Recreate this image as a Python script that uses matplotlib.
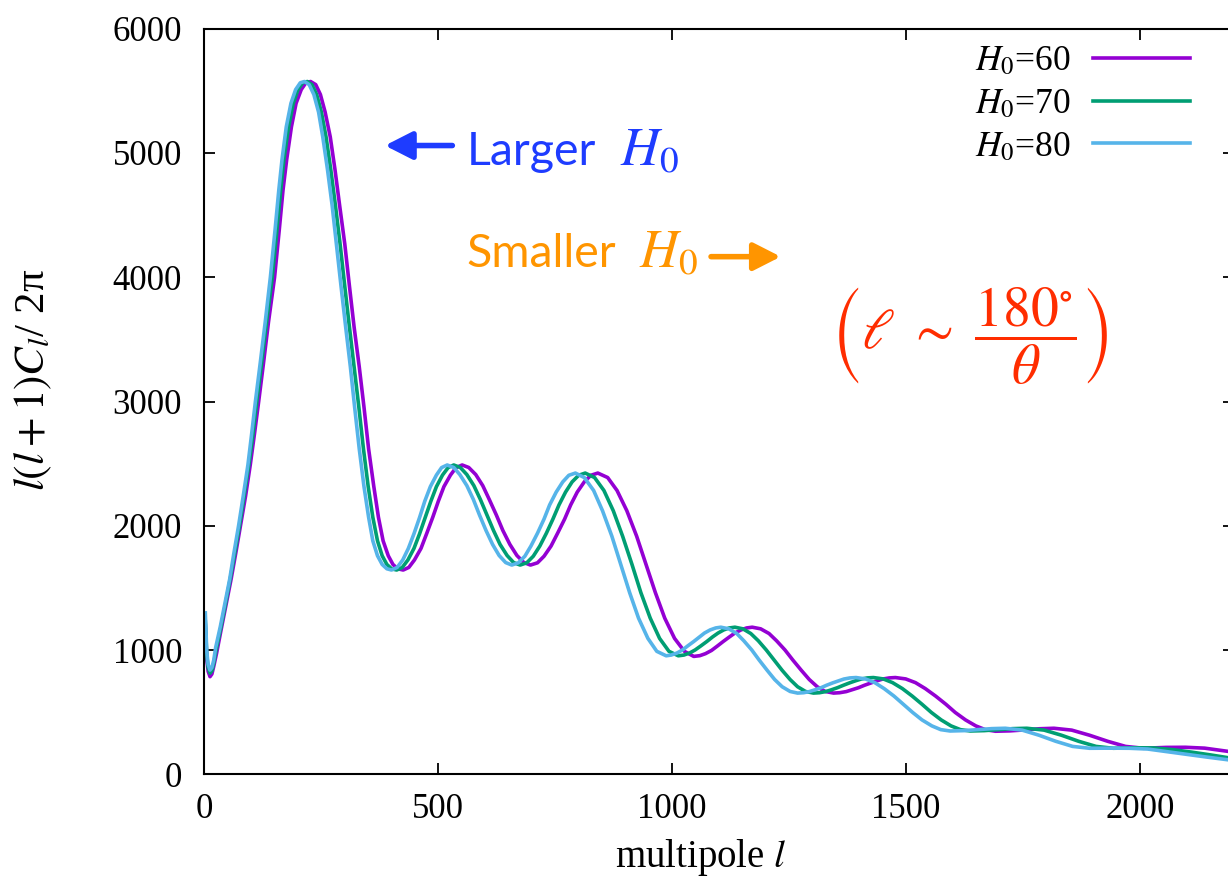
import matplotlib
matplotlib.use("Agg")
from matplotlib import pyplot as plt

plt.rcParams['font.family'] = ['Liberation Serif', 'DejaVu Serif']
plt.rcParams['mathtext.fontset'] = 'stix'

# multipole l and l(l+1)C_l/2pi for H0 = 70
l_70 = [2, 5, 8, 12, 16, 20, 25, 35, 45, 55,
        65, 75, 85, 95, 104, 112, 122, 133, 145, 155,
        163, 170, 180, 190, 200, 210, 220, 230, 240, 250,
        260, 270, 280, 290, 300, 310, 320, 330, 340, 350,
        360, 370, 380, 390, 400, 411, 423, 435, 448, 460,
        472, 484, 496, 509, 521, 533, 547, 561, 576, 590,
        604, 618, 632, 647, 661, 675, 689, 703, 717, 731,
        745, 758, 772, 786, 800, 814, 834, 854, 874, 894,
        914, 933, 953, 973, 993, 1013, 1025, 1037, 1049, 1061,
        1074, 1086, 1098, 1110, 1122, 1134, 1151, 1168, 1184, 1201,
        1218, 1235, 1252, 1268, 1285, 1302, 1315, 1328, 1340, 1353,
        1366, 1379, 1392, 1404, 1417, 1430, 1451, 1471, 1492, 1513,
        1534, 1554, 1575, 1596, 1616, 1637, 1667, 1698, 1728, 1758,
        1795, 1832, 1869, 1906, 1943, 1990, 2030, 2070, 2110, 2150,
        2200, 2260]
c_70 = [1230, 960, 860, 815, 835, 895, 1000, 1180, 1370, 1570,
        1780, 2000, 2240, 2490, 2740, 3000, 3300, 3640, 4000, 4380,
        4700, 4950, 5210, 5400, 5510, 5565, 5575, 5550, 5470, 5330,
        5130, 4870, 4580, 4270, 3930, 3600, 3280, 2960, 2620, 2320,
        2070, 1880, 1760, 1690, 1655, 1645, 1666, 1726, 1819, 1937,
        2068, 2198, 2316, 2409, 2469, 2490, 2470, 2413, 2324, 2212,
        2088, 1963, 1851, 1762, 1705, 1685, 1703, 1756, 1838, 1941,
        2055, 2169, 2272, 2354, 2407, 2425, 2389, 2285, 2122, 1917,
        1690, 1463, 1258, 1095, 991, 955, 961, 977, 1002, 1034,
        1070, 1106, 1138, 1163, 1179, 1185, 1172, 1134, 1076, 1002,
        920, 838, 764, 706, 668, 655, 658, 667, 681, 698,
        718, 737, 754, 768, 777, 780, 769, 739, 691, 631,
        565, 499, 439, 391, 361, 350, 353, 361, 369, 372,
        357, 316, 267, 226, 211, 215, 214, 200, 180, 158,
        128, 100]

# H0 = 80
l_80 = [2, 5, 8, 12, 16, 20, 24, 34, 44, 54,
        63, 73, 83, 93, 101, 109, 119, 130, 141, 151,
        159, 166, 175, 185, 195, 205, 214, 224, 234, 244,
        253, 263, 273, 282, 292, 302, 312, 321, 331, 341,
        351, 360, 370, 380, 390, 400, 412, 424, 436, 448,
        460, 471, 483, 496, 507, 519, 533, 546, 561, 575,
        588, 602, 616, 630, 644, 657, 671, 685, 698, 712,
        726, 738, 752, 766, 779, 793, 812, 832, 851, 871,
        890, 909, 928, 948, 967, 987, 998, 1010, 1022, 1033,
        1046, 1058, 1069, 1081, 1093, 1104, 1121, 1138, 1153, 1170,
        1186, 1203, 1219, 1235, 1252, 1268, 1281, 1293, 1305, 1318,
        1330, 1343, 1356, 1367, 1380, 1393, 1413, 1433, 1453, 1474,
        1494, 1514, 1534, 1555, 1574, 1594, 1624, 1654, 1683, 1712,
        1748, 1784, 1820, 1856, 1892, 1938, 1977, 2016, 2055, 2094,
        2143, 2201]
c_80 = [1300, 990, 885, 840, 860, 920, 1020, 1190, 1380, 1570,
        1780, 2000, 2240, 2490, 2740, 3000, 3300, 3640, 4000, 4380,
        4700, 4950, 5210, 5400, 5510, 5565, 5575, 5550, 5470, 5330,
        5130, 4870, 4580, 4270, 3930, 3600, 3280, 2960, 2620, 2320,
        2070, 1880, 1760, 1690, 1655, 1645, 1666, 1726, 1819, 1937,
        2068, 2198, 2316, 2409, 2469, 2490, 2470, 2413, 2324, 2212,
        2088, 1963, 1851, 1762, 1705, 1685, 1703, 1756, 1838, 1941,
        2055, 2169, 2272, 2354, 2407, 2425, 2389, 2285, 2122, 1917,
        1690, 1463, 1258, 1095, 991, 955, 961, 977, 1002, 1034,
        1070, 1106, 1138, 1163, 1179, 1185, 1172, 1134, 1076, 1002,
        920, 838, 764, 706, 668, 655, 658, 667, 681, 698,
        718, 737, 754, 768, 777, 780, 769, 739, 691, 631,
        565, 499, 439, 391, 361, 350, 353, 361, 369, 372,
        357, 316, 267, 226, 211, 212, 211, 205, 185, 165,
        140, 112]

# H0 = 60
l_60 = [2, 5, 8, 12, 16, 20, 26, 36, 46, 57,
        67, 77, 88, 98, 107, 116, 126, 137, 150, 160,
        168, 176, 186, 196, 207, 217, 227, 238, 248, 258,
        269, 279, 289, 300, 310, 320, 331, 341, 351, 362,
        372, 382, 393, 403, 413, 425, 437, 449, 463, 475,
        488, 500, 512, 526, 538, 551, 565, 580, 595, 609,
        624, 638, 653, 668, 683, 697, 712, 726, 741, 755,
        770, 783, 797, 812, 826, 841, 862, 882, 903, 924,
        944, 964, 984, 1005, 1026, 1046, 1059, 1071, 1084, 1096,
        1109, 1122, 1134, 1147, 1159, 1171, 1189, 1207, 1223, 1241,
        1258, 1276, 1293, 1310, 1327, 1345, 1358, 1372, 1384, 1398,
        1411, 1425, 1438, 1450, 1464, 1477, 1499, 1520, 1541, 1563,
        1585, 1605, 1627, 1649, 1669, 1691, 1722, 1754, 1785, 1816,
        1854, 1892, 1931, 1969, 2007, 2056, 2097, 2138, 2180, 2221]
c_60 = [1200, 930, 830, 787, 808, 870, 975, 1170, 1360, 1570,
        1780, 2000, 2240, 2490, 2740, 3000, 3300, 3640, 4000, 4380,
        4700, 4950, 5210, 5400, 5510, 5565, 5575, 5550, 5470, 5330,
        5130, 4870, 4580, 4270, 3930, 3600, 3280, 2960, 2620, 2320,
        2070, 1880, 1760, 1690, 1655, 1645, 1666, 1726, 1819, 1937,
        2068, 2198, 2316, 2409, 2469, 2490, 2470, 2413, 2324, 2212,
        2088, 1963, 1851, 1762, 1705, 1685, 1703, 1756, 1838, 1941,
        2055, 2169, 2272, 2354, 2407, 2425, 2389, 2285, 2122, 1917,
        1690, 1463, 1258, 1095, 991, 950, 956, 972, 998, 1032,
        1070, 1106, 1138, 1163, 1179, 1185, 1172, 1134, 1076, 1002,
        920, 838, 764, 706, 668, 655, 658, 667, 681, 698,
        718, 737, 754, 768, 777, 780, 769, 739, 691, 631,
        565, 499, 439, 391, 361, 348, 351, 359, 368, 372,
        357, 316, 267, 226, 211, 218, 219, 212, 190, 170]

labels = [r'$H_0$=60', r'$H_0$=70', r'$H_0$=80']
colors = ['#9400d3', '#009e73', '#56b4e9']

fig = plt.figure(figsize=(12.28, 8.84), dpi=100)
ax = fig.add_axes([0.16645, 0.12387, 0.83811, 0.84367])

for l, c, lab, col in zip([l_60, l_70, l_80], [c_60, c_70, c_80], labels, colors):
    ax.plot(l, c, color=col, lw=2.6, label=lab, solid_joinstyle='round')

ax.set_xlim(0, 2200)
ax.set_ylim(0, 6000)
ax.set_xticks([0, 500, 1000, 1500, 2000])
ax.set_yticks([0, 1000, 2000, 3000, 4000, 5000, 6000])
ax.tick_params(direction='in', top=True, right=True, length=8, width=1.3, labelsize=25)
ax.tick_params(axis='x', pad=13)
ax.tick_params(axis='y', pad=16)
for s in ax.spines.values():
    s.set_linewidth(1.5)

fig.text(701 / 1228, 1 - 857 / 884, r'multipole $l$', fontsize=28, ha='center', va='center')
fig.text(33 / 1228, 1 - 380 / 884, r'$\mathit{l(l+1)C_l}$/ 2π', rotation=90, fontsize=31,
         ha='center', va='center')

leg = ax.legend(loc='upper right', bbox_to_anchor=(1190 / 1228, 1 - 45 / 884),
                bbox_transform=fig.transFigure, markerfirst=False, frameon=False,
                fontsize=25.5, handlelength=2.75, handletextpad=0.62, labelspacing=0.28,
                borderpad=0, borderaxespad=0)

# direction of the peak shift
blue = '#1e3cff'
orange = '#ff9500'
sans = ['Lato', 'DejaVu Sans']
head = '-|>,head_length=0.55,head_width=0.28'
ax.annotate('', xy=(386, 5060), xytext=(530, 5060),
            arrowprops=dict(arrowstyle=head, color=blue, lw=4, mutation_scale=30,
                            shrinkA=0, shrinkB=0))
ax.text(561, 4905, 'Larger', color=blue, fontsize=33.5, family=sans)
ax.text(889, 4905, r'$H_0$', color=blue, fontsize=38.5)
ax.text(561, 4083, 'Smaller', color=orange, fontsize=33.5, family=sans)
ax.text(930, 4083, r'$H_0$', color=orange, fontsize=38.5)
ax.annotate('', xy=(1232, 4166), xytext=(1083, 4166),
            arrowprops=dict(arrowstyle=head, color=orange, lw=4, mutation_scale=30,
                            shrinkA=0, shrinkB=0))

ax.text(1637, 3525, r'$\left(\ell\ \sim\ \dfrac{180^{\circ}}{\theta}\right)$', color='#ff2d00',
        fontsize=40, ha='center', va='center')

fig.savefig('out.png', dpi=100)
